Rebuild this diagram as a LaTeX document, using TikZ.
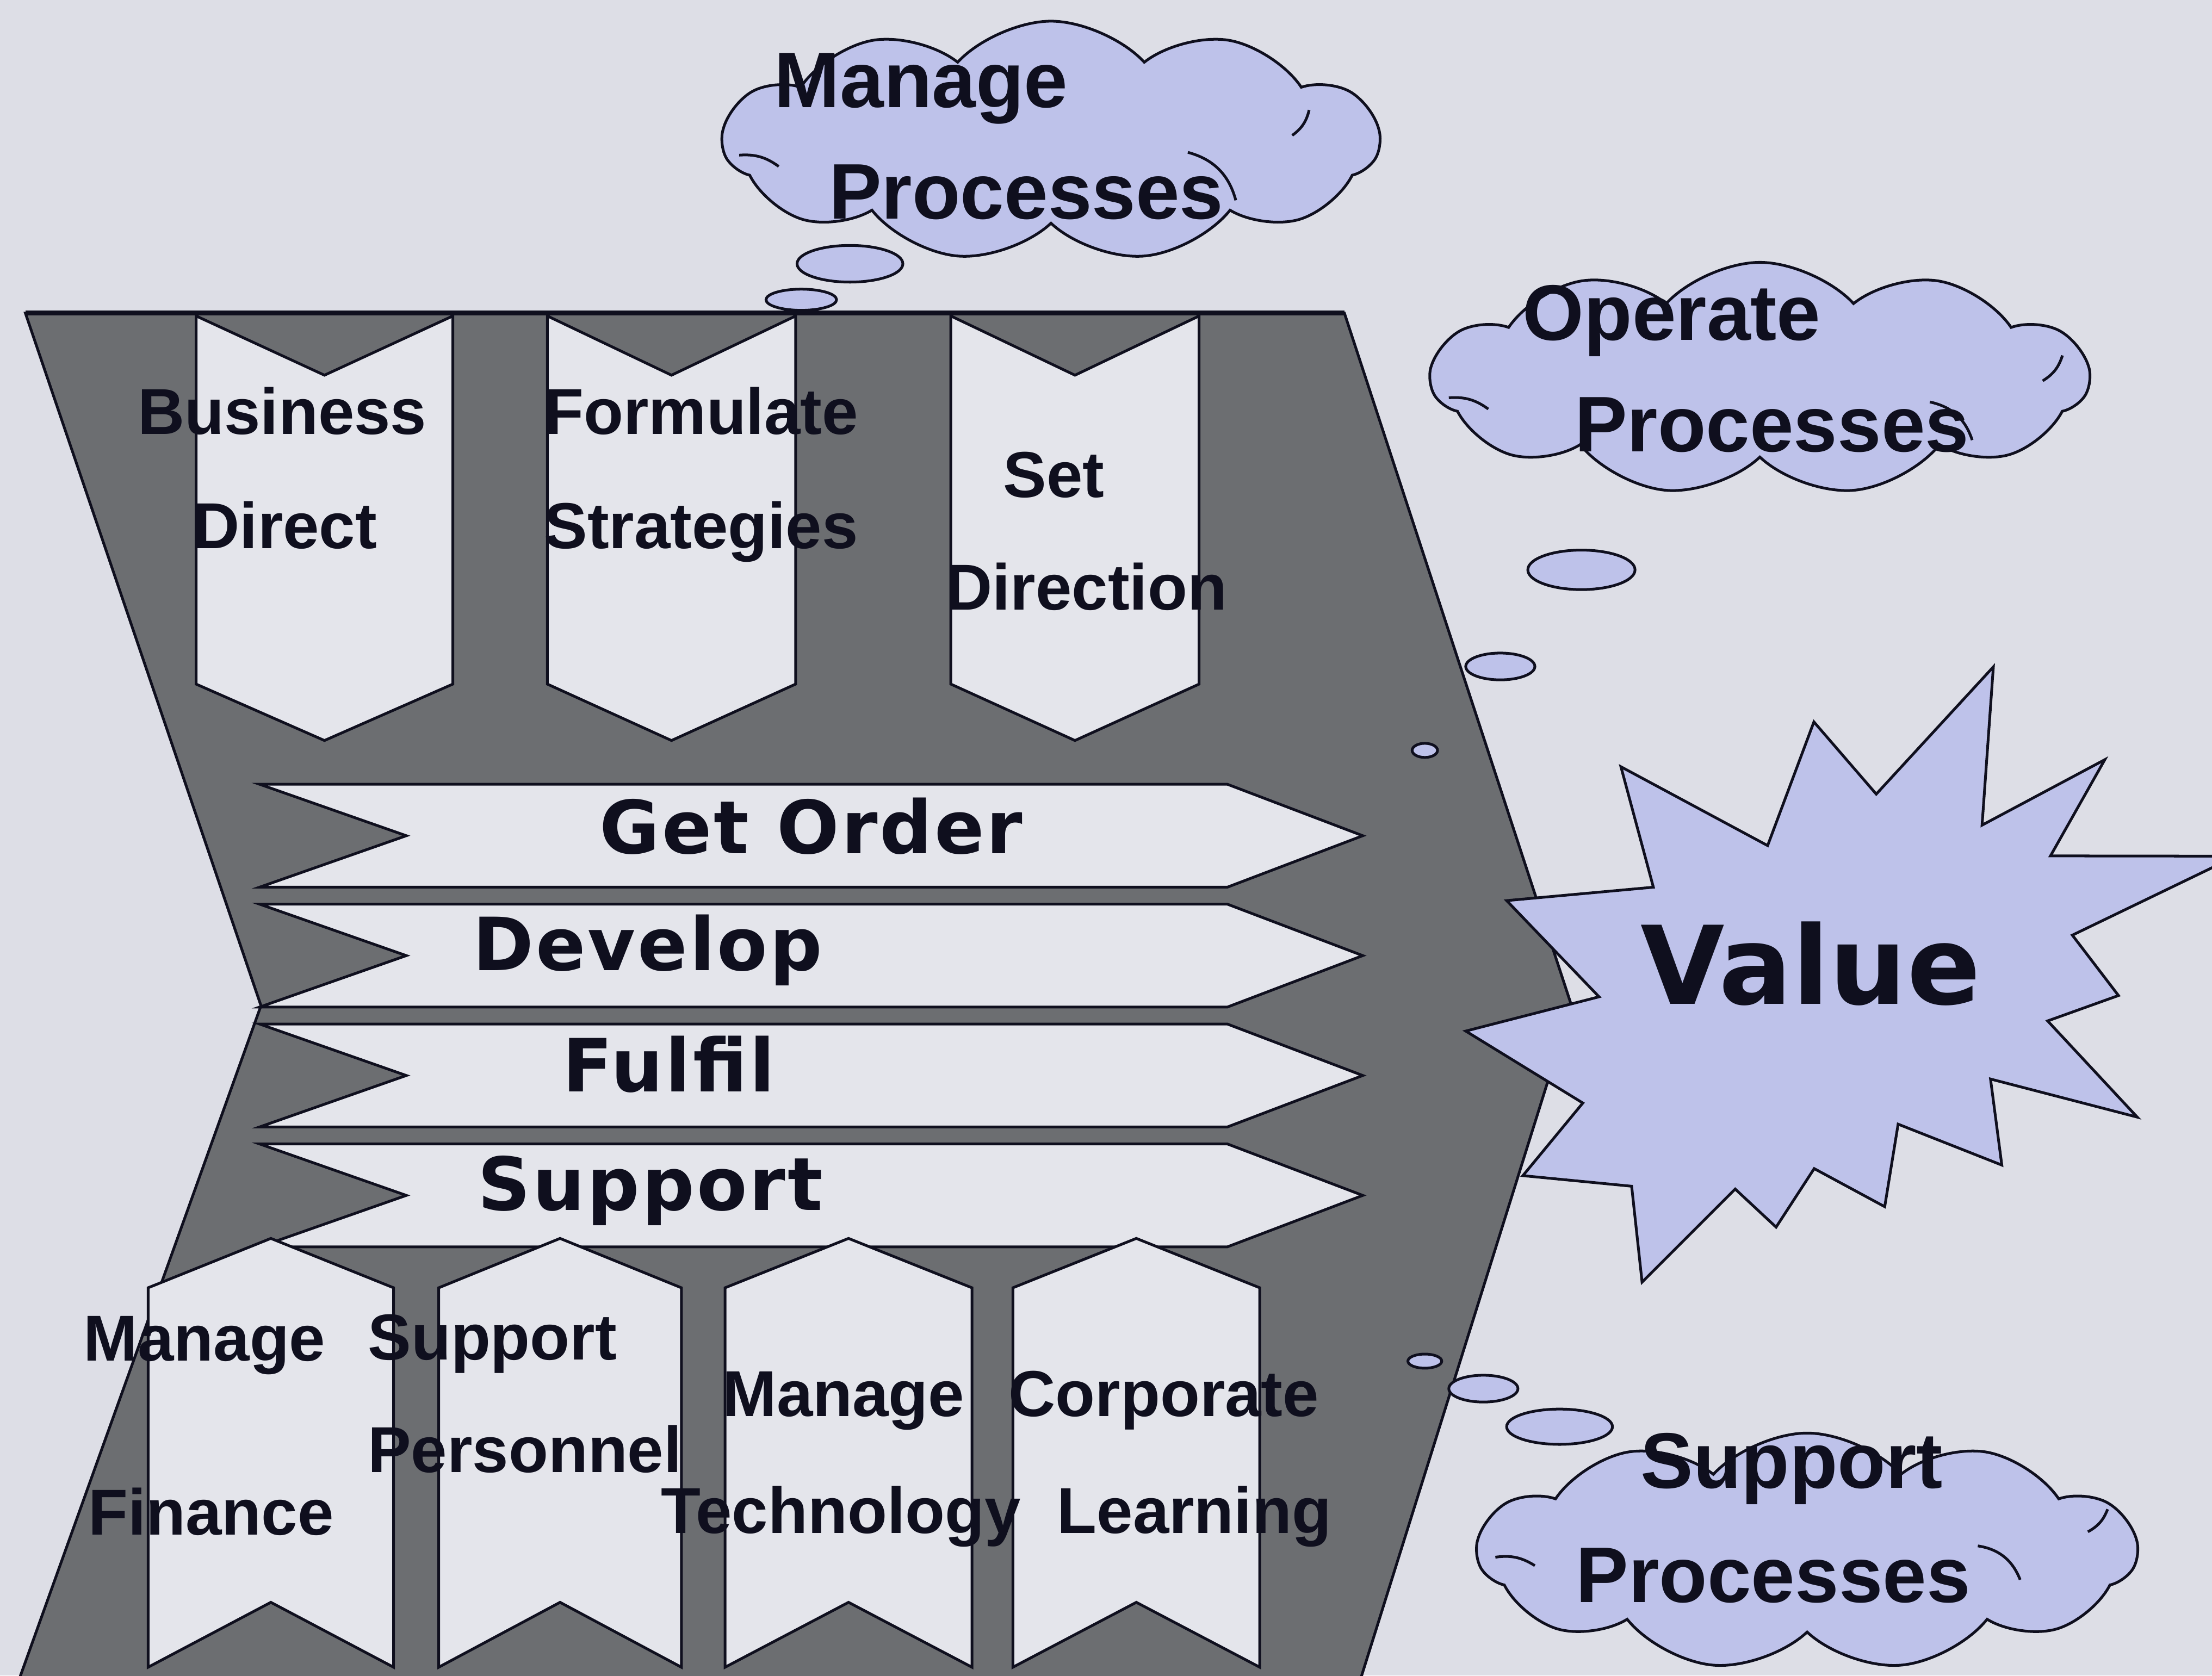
\documentclass[tikz,border=0pt]{standalone}
\usepackage{fontspec}
\setmainfont{Liberation Sans}
\newfontfamily\arrowfont{DejaVu Sans}[LetterSpace=3]
\newfontfamily\valuefont{DejaVu Sans}
\usetikzlibrary{shapes.symbols,shapes.geometric}
\definecolor{bgc}{RGB}{221,222,230}
\definecolor{grayc}{RGB}{108,110,113}
\definecolor{boxc}{RGB}{228,229,235}
\definecolor{lav}{RGB}{190,194,234}
\definecolor{ink}{RGB}{15,15,30}
\begin{document}
\begin{tikzpicture}[x=0.1mm,y=-0.1mm, line join=miter,
  shapeline/.style={draw=ink, line width=0.55pt},
  boxshape/.style={shapeline, fill=boxc},
  bubble/.style={ellipse, shapeline, fill=lav, inner sep=0pt},
  thought/.style={cloud, cloud puffs=11, cloud puff arc=95, cloud ignores aspect, shapeline, fill=lav, inner sep=0pt},
  curl/.style={draw=ink, line width=0.55pt},
  boxlabel/.style={anchor=base, inner sep=0pt, text=ink, font=\bfseries\fontsize{13.1}{14}\selectfont},
  arrowlabel/.style={anchor=base, inner sep=0pt, text=ink, font=\arrowfont\bfseries\fontsize{14.8}{16}\selectfont},
  cloudlabel/.style={anchor=base, inner sep=0pt, text=ink, font=\bfseries\fontsize{15.9}{17}\selectfont},
  valuelabel/.style={anchor=base, inner sep=0pt, text=ink, font=\valuefont\bfseries\fontsize{21.9}{24}\selectfont},
]
\fill[bgc] (0,0) rectangle (1568,1188);
\useasboundingbox (0,0) rectangle (1568,1188);
\begin{scope}
\clip (0,0) rectangle (1568,1188);
% big grey chevron
\path[shapeline, fill=grayc] (18,222) -- (953,222) -- (1114,713) -- (963,1195) -- (12,1195) -- (185,713) -- cycle;
\draw[ink, line width=1pt] (18,222) -- (953,222);
% top boxes (pointing down)
\foreach \L/\R in {139/321, 388/564, 674/850} {
  \pgfmathsetmacro\C{(\L+\R)/2}
  \path[boxshape] (\L,224) -- (\C,266) -- (\R,224) -- (\R,485) -- (\C,525) -- (\L,485) -- cycle;
}
% horizontal arrows
\foreach \T in {556,641,726,811} {
  \path[boxshape] (184,\T) -- (870,\T) -- (966,\T+36.5) -- (870,\T+73) -- (184,\T+73) -- (288,\T+36.5) -- cycle;
}
% bottom boxes (pointing up)
\foreach \L/\R in {105/279, 311/483, 514/689, 718/893} {
  \pgfmathsetmacro\C{(\L+\R)/2}
  \path[boxshape] (\L,913) -- (\C,878) -- (\R,913) -- (\R,1182) -- (\C,1136) -- (\L,1182) -- cycle;
}
% clouds
\node[thought, minimum width=46.5mm, minimum height=17mm] (cManage) at (745,100) {};
\node[thought, minimum width=46.6mm, minimum height=16.5mm] (cOperate) at (1247.5,268.5) {};
\node[thought, minimum width=46.7mm, minimum height=16.8mm] (cSupport) at (1281,1100) {};
% inner curls of the clouds
\draw[curl] (524,110) to[bend left=20] (552,118);
\draw[curl] (842,108) to[bend left=30] (876,142);
\draw[curl] (928,78) to[bend left=20] (916,96);
\draw[curl] (1027,282) to[bend left=20] (1055,290);
\draw[curl] (1368,285) to[bend left=30] (1398,312);
\draw[curl] (1462,252) to[bend left=20] (1448,270);
\draw[curl] (1060,1104) to[bend left=20] (1088,1110);
\draw[curl] (1402,1096) to[bend left=30] (1432,1120);
\draw[curl] (1494,1070) to[bend left=20] (1480,1086);
% bubbles
\node[bubble, minimum width=7.5mm, minimum height=2.6mm] (bm1) at (602.5,187) {};
\node[bubble, minimum width=5mm, minimum height=1.5mm] (bm2) at (568,212.5) {};
\node[bubble, minimum width=7.6mm, minimum height=2.8mm] (bo1) at (1121,404) {};
\node[bubble, minimum width=4.9mm, minimum height=1.9mm] (bo2) at (1063.5,472.5) {};
\node[bubble, minimum width=1.8mm, minimum height=1mm] (bo3) at (1010,532) {};
\node[bubble, minimum width=2.4mm, minimum height=1mm] (bs3) at (1010,965) {};
\node[bubble, minimum width=4.9mm, minimum height=1.9mm] (bs2) at (1051.5,984.5) {};
\node[bubble, minimum width=7.5mm, minimum height=2.5mm] (bs1) at (1105.5,1011.5) {};
% value star
\path[shapeline, fill=lav] (1039,731) -- (1133.5,706.7) -- (1068,638.5) -- (1172,629) -- (1149,543.6) -- (1253,599.5) -- (1285.8,511.8) -- (1330,563) -- (1413,472.8) -- (1405,585) -- (1492,538.6) -- (1453.5,606.8) -- (1585,607) -- (1469,663) -- (1501.7,705.8) -- (1451.5,723.8) -- (1515,792) -- (1411,765) -- (1419,826) -- (1345.5,797) -- (1336,855.5) -- (1286,828.5) -- (1259,870) -- (1230,843) -- (1164,909) -- (1156.6,841) -- (1079.5,833.5) -- (1122,782) -- cycle;
\end{scope}
% labels
\node[boxlabel] (tBusiness) at (200,308) {Business};
\node[boxlabel] (tDirect) at (202,389) {Direct};
\node[boxlabel] (tFormulate) at (497,308) {Formulate};
\node[boxlabel] (tStrategies) at (497,389) {Strategies};
\node[boxlabel] (tSet) at (747,352.5) {Set};
\node[boxlabel] (tDirection) at (770,432.5) {Direction};
\node[arrowlabel] (tGetOrder) at (575,605) {Get Order};
\node[arrowlabel] (tDevelop) at (459,688) {Develop};
\node[arrowlabel] (tFulfil) at (474,774) {Fulfil};
\node[arrowlabel] (tSupport) at (461,858) {Support};
\node[boxlabel] (tManageF) at (145,965) {Manage};
\node[boxlabel] (tFinance) at (149.5,1088) {Finance};
\node[boxlabel] (tSupportP) at (349,964) {Support};
\node[boxlabel] (tPersonnel) at (372,1044) {Personnel};
\node[boxlabel] (tManageT) at (598,1004) {Manage};
\node[boxlabel] (tTechnology) at (596,1087) {Technology};
\node[boxlabel] (tCorporate) at (825,1004) {Corporate};
\node[boxlabel] (tLearning) at (846.6,1087) {Learning};
\node[cloudlabel] (tManageP) at (653,76) {Manage};
\node[cloudlabel] (tProcM) at (727.5,155) {Processes};
\node[cloudlabel] (tOperate) at (1185,241) {Operate};
\node[cloudlabel] (tProcO) at (1256,320) {Processes};
\node[cloudlabel] (tSupportC) at (1270,1055) {Support};
\node[cloudlabel] (tProcS) at (1257,1136) {Processes};
\node[valuelabel] (tValue) at (1283.5,712) {Value};
\end{tikzpicture}
\end{document}
